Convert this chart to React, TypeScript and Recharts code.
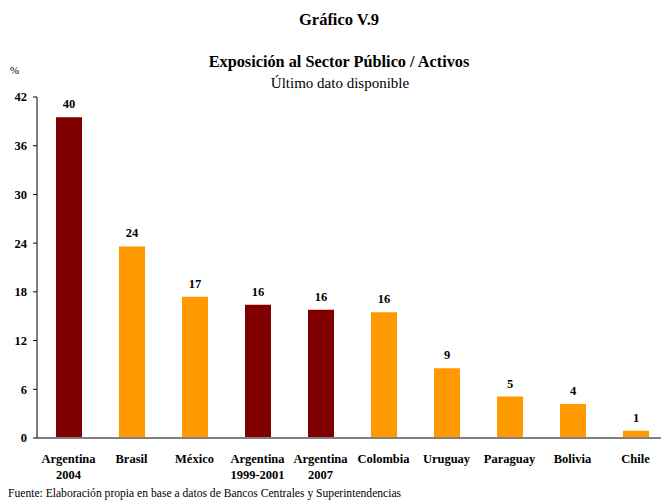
import { BarChart, Bar, XAxis, YAxis, Cell, LabelList } from "recharts";

const paises = [
  "Argentina\n2004",
  "Brasil",
  "México",
  "Argentina\n1999-2001",
  "Argentina\n2007",
  "Colombia",
  "Uruguay",
  "Paraguay",
  "Bolivia",
  "Chile",
];
const exposicion = [39.5, 23.6, 17.4, 16.4, 15.8, 15.5, 8.6, 5.1, 4.2, 0.9];
const etiquetas = ["40", "24", "17", "16", "16", "16", "9", "5", "4", "1"];
const ticksY = [0, 6, 12, 18, 24, 30, 36, 42];

const data = paises.map((p, i) => ({
  pais: p,
  valor: exposicion[i],
  etiqueta: etiquetas[i],
}));

const FONT = "'Liberation Serif', 'Times New Roman', serif";
const ROJO = "#800000";
const NARANJA = "#FF9900";

function TickPais(props: any) {
  const { x, y, payload } = props;
  const lineas = String(payload.value).split("\n");
  return (
    <text
      x={x}
      y={y + 17}
      textAnchor="middle"
      fontFamily={FONT}
      fontSize={12.5}
      fontWeight="bold"
      fill="#000"
    >
      {lineas.map((l, i) => (
        <tspan key={i} x={x} dy={i === 0 ? 0 : 16}>
          {l}
        </tspan>
      ))}
    </text>
  );
}

export default function App() {
  return (
    <div
      style={{
        position: "absolute",
        left: 0,
        top: 0,
        width: 661,
        height: 501,
        overflow: "hidden",
        background: "#fff",
        fontFamily: FONT,
      }}
    >
      <div
        style={{
          position: "absolute",
          left: 0,
          width: 678,
          top: 10,
          textAlign: "center",
          fontWeight: "bold",
          fontSize: 16.5,
        }}
      >
        Gráfico V.9
      </div>
      <div
        style={{
          position: "absolute",
          left: 0,
          width: 678,
          top: 52,
          textAlign: "center",
          fontWeight: "bold",
          fontSize: 16.3,
        }}
      >
        Exposición al Sector Público / Activos
      </div>
      <div
        style={{
          position: "absolute",
          left: 0,
          width: 680,
          top: 75,
          textAlign: "center",
          fontSize: 15,
        }}
      >
        Último dato disponible
      </div>
      <div style={{ position: "absolute", left: 10, top: 64, fontSize: 11 }}>%</div>
      <div
        style={{
          position: "absolute",
          left: 8,
          top: 487,
          fontSize: 11.6,
          whiteSpace: "nowrap",
        }}
      >
        Fuente: Elaboración propia en base a datos de Bancos Centrales y Superintendencias
      </div>
      <BarChart
        width={680}
        height={501}
        data={data}
        margin={{ top: 97, right: 13, left: 0, bottom: 23 }}
        style={{ position: "absolute", left: 0, top: 0 }}
      >
        <XAxis
          dataKey="pais"
          tick={<TickPais />}
          tickLine={false}
          axisLine={{ stroke: "#808080", strokeWidth: 2 }}
          interval={0}
          height={40}
        />
        <YAxis
          domain={[0, 42]}
          ticks={ticksY}
          width={37}
          tickSize={4}
          tickMargin={6}
          axisLine={{ stroke: "#000" }}
          tickLine={{ stroke: "#000" }}
          tick={{ fill: "#000", fontSize: 12.5, fontWeight: "bold", fontFamily: FONT }}
        />
        <Bar dataKey="valor" barSize={26} isAnimationActive={false}>
          {data.map((d, i) => (
            <Cell key={i} fill={d.pais.startsWith("Argentina") ? ROJO : NARANJA} />
          ))}
          <LabelList
            dataKey="etiqueta"
            position="top"
            offset={9}
            fill="#000"
            fontSize={12.5}
            fontWeight="bold"
            fontFamily={FONT}
          />
        </Bar>
      </BarChart>
    </div>
  );
}
